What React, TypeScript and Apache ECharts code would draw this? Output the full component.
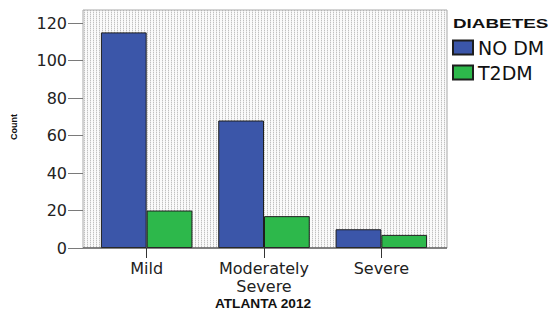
import React, { useEffect, useRef } from "react";
import * as echarts from "echarts";

const categories = ["Mild", "Moderately\nSevere", "Severe"];
const seriesNames = ["NO DM", "T2DM"];
const noDm = [115, 68, 10];
const t2dm = [20, 17, 7];
const yTicks = { min: 0, max: 120, interval: 20 };
const colors = ["#3b56a9", "#2db84b"];

function makePattern(): any {
  const c = document.createElement("canvas");
  c.width = 3;
  c.height = 2;
  const ctx = c.getContext("2d");
  if (!ctx) return "#ececec";
  ctx.fillStyle = "#fafafa";
  ctx.fillRect(0, 0, 3, 2);
  ctx.fillStyle = "#c0c0c0";
  ctx.fillRect(0, 0, 1, 1);
  ctx.fillStyle = "#e6e6e6";
  ctx.fillRect(0, 1, 1, 1);
  return { image: c, repeat: "repeat" };
}

export default function App() {
  const ref = useRef<HTMLDivElement>(null);
  useEffect(() => {
    document.body.style.margin = "0";
    if (!ref.current) return;
    const chart = echarts.init(ref.current, undefined, { renderer: "svg" });
    const font = "DejaVu Sans";
    chart.setOption({
      animation: false,
      backgroundColor: "#ffffff",
      graphic: [
        {
          type: "rect",
          z: -10,
          shape: { x: 83, y: 10, width: 364, height: 238 },
          style: { fill: makePattern(), stroke: "#a8a8a8", lineWidth: 1 },
        },
        {
          type: "line",
          z: 10,
          shape: { x1: 83, y1: 248, x2: 447, y2: 248 },
          style: { stroke: "#333333", lineWidth: 1.2 },
        },
        {
          type: "text",
          x: 453,
          y: 23,
          scaleX: 1.45,
          style: {
            text: "DIABETES",
            font: "bold 13px 'Liberation Sans'",
            fill: "#111111",
            textVerticalAlign: "middle",
          },
        },
        {
          type: "text",
          x: 263,
          y: 304,
          scaleX: 1.14,
          style: {
            text: "ATLANTA 2012",
            font: "bold 12px 'Liberation Sans'",
            fill: "#111111",
            textAlign: "center",
            textVerticalAlign: "middle",
          },
        },
        {
          type: "text",
          x: 14,
          y: 127,
          rotation: Math.PI / 2,
          style: {
            text: "Count",
            font: "bold 9px 'Liberation Sans'",
            fill: "#111111",
            textAlign: "center",
            textVerticalAlign: "middle",
          },
        },
      ],
      legend: {
        orient: "vertical",
        left: 452,
        top: 38,
        padding: 0,
        itemWidth: 20,
        itemHeight: 14,
        itemGap: 6,
        icon: "rect",
        data: seriesNames,
        textStyle: { fontFamily: font, fontSize: 19, color: "#111111", lineHeight: 14 },
      },
      grid: { left: 88, right: 112, top: 23, bottom: 63 },
      xAxis: {
        type: "category",
        data: categories,
        axisLine: { show: false },
        axisTick: { show: true, alignWithLabel: true, length: 10, lineStyle: { color: "#333333" } },
        axisLabel: {
          fontFamily: font,
          fontSize: 16,
          lineHeight: 18.6,
          color: "#222222",
          margin: 11,
          interval: 0,
        },
      },
      yAxis: {
        type: "value",
        min: yTicks.min,
        max: yTicks.max,
        interval: yTicks.interval,
        offset: 5,
        axisLine: { show: false },
        axisTick: { show: true, length: 15, lineStyle: { color: "#7a7a7a" } },
        axisLabel: { fontFamily: font, fontSize: 16, color: "#222222", margin: 16 },
        splitLine: { show: false },
      },
      series: [
        {
          name: seriesNames[0],
          type: "bar",
          data: noDm,
          barGap: "0%",
          barCategoryGap: "22%",
          itemStyle: { color: colors[0], borderColor: "#1e1e1e", borderWidth: 1 },
        },
        {
          name: seriesNames[1],
          type: "bar",
          data: t2dm,
          barGap: "0%",
          barCategoryGap: "22%",
          itemStyle: { color: colors[1], borderColor: "#1e1e1e", borderWidth: 1 },
        },
      ],
    });
    return () => chart.dispose();
  }, []);
  return <div ref={ref} style={{ width: 552, height: 311 }} />;
}
